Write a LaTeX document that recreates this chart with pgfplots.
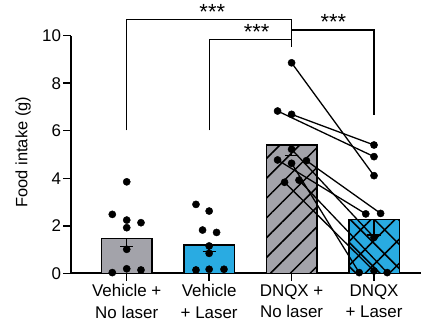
\documentclass[border=0pt]{standalone}
\usepackage{fontspec}
\setmainfont{Liberation Sans}
\usepackage{pgfplots}
\pgfplotsset{compat=1.18}
\usetikzlibrary{patterns.meta}
\definecolor{bargray}{RGB}{163,163,170}
\definecolor{barblue}{RGB}{41,171,226}
\begin{document}
\begin{tikzpicture}
\useasboundingbox (-71bp,-52.7bp) rectangle (350bp,273.3bp);
\begin{axis}[
  at={(0,0)}, anchor=south west,
  scale only axis, width=350bp, height=237.6bp,
  xmin=-0.676, xmax=3.57, ymin=0, ymax=10,
  axis lines=left,
  axis line style={line width=2bp, -},
  clip=false,
  ytick={0,2,4,6,8,10},
  xtick={0,1,2,3},
  xticklabels={{Vehicle +\\No laser},{Vehicle\\+ Laser},{DNQX +\\No laser},{DNQX\\+ Laser}},
  tick style={line width=1.5bp, black},
  tick align=outside,
  major tick length=7.5bp,
  /pgf/number format/assume math mode=true,
  yticklabel style={font=\fontsize{17}{20}\selectfont, xshift=1bp},
  xticklabel style={font=\fontsize{17}{21.7}\selectfont, align=center},
  ylabel={Food intake (g)},
  ylabel style={font=\fontsize{16.5}{20}\selectfont, at={(axis description cs:-0.137,0.51)}, anchor=center},
]
% bars
\addplot[ybar, bar width=50.5bp, bar shift=0pt, fill=bargray, draw=black, line width=1.5bp] coordinates {(0,1.47)};
\addplot[ybar, bar width=50.5bp, bar shift=0pt, fill=barblue, draw=black, line width=1.5bp] coordinates {(1,1.19)};
\addplot[ybar, bar width=50.5bp, bar shift=0pt, fill=bargray, draw=black, line width=1.5bp,
  postaction={pattern={Lines[angle=45,distance=14bp,line width=1.5bp]}, pattern color=black}] coordinates {(2,5.40)};
\addplot[ybar, bar width=50.5bp, bar shift=0pt, fill=barblue, draw=black, line width=1.5bp,
  postaction={pattern={Hatch[angle=45,distance=17bp,line width=1.5bp]}, pattern color=black}] coordinates {(3,2.27)};
% error bars (SEM, lower half)
\addplot[black, line width=1.5bp] coordinates {(0,1.47) (0,1.12)};
\addplot[black, line width=1.5bp] coordinates {(-0.08,1.12) (0.08,1.12)};
\addplot[black, line width=1.5bp] coordinates {(1,1.19) (1,0.91)};
\addplot[black, line width=1.5bp] coordinates {(0.92,0.91) (1.08,0.91)};
\addplot[black, line width=1.5bp] coordinates {(2,5.40) (2,4.95)};
\addplot[black, line width=1.5bp] coordinates {(1.92,4.95) (2.08,4.95)};
\addplot[black, line width=1.5bp] coordinates {(3,2.27) (3,1.61)};
\addplot[black, line width=1.5bp] coordinates {(2.92,1.61) (3.08,1.61)};
% paired lines
\addplot[black, line width=1.3bp] coordinates {(2,8.86) (3,4.11)};
\addplot[black, line width=1.3bp] coordinates {(1.83,6.83) (3,4.91)};
\addplot[black, line width=1.3bp] coordinates {(2,6.69) (3,5.40)};
\addplot[black, line width=1.3bp] coordinates {(2.18,4.74) (3.08,2.52)};
\addplot[black, line width=1.3bp] coordinates {(1.83,4.77) (2.9,2.50)};
\addplot[black, line width=1.3bp] coordinates {(2,5.22) (3,1.51)};
\addplot[black, line width=1.3bp] coordinates {(2,4.63) (2.82,0.03)};
\addplot[black, line width=1.3bp] coordinates {(1.915,3.83) (3,0.10)};
\addplot[black, line width=1.3bp] coordinates {(2.09,3.92) (3.16,0.03)};
% individual points
\addplot[only marks, mark=*, mark size=3.6bp, black] coordinates {
  (0,3.85) (-0.175,2.48) (0,2.24) (0.173,2.13) (0,1.92) (0,1.01) (-0.175,0.03) (0,0.19) (0.173,0.14)
  (0.84,2.90) (1.0,2.62) (0.92,1.82) (1.09,1.72) (1,1.15) (1,0.84) (0.84,0.14) (1,0.17) (1.18,0.17)
  (2,8.86) (1.83,6.83) (2,6.69) (2,5.22) (1.83,4.77) (2,4.63) (2.18,4.74) (1.915,3.83) (2.09,3.92)
  (3,5.40) (3,4.91) (3,4.11) (2.9,2.50) (3.08,2.52) (3,1.51) (2.82,0.03) (3,0.10) (3.16,0.03)
};
% significance brackets
\addplot[black, line width=1.3bp] coordinates {(0,6.02) (0,10.69) (2,10.69) (2,9.52)};
\addplot[black, line width=1.3bp] coordinates {(1,6.02) (1,9.84) (2,9.84)};
\addplot[black, line width=1.3bp] coordinates {(2,10.24) (3,10.24) (3,6.66)};
\node[font=\fontsize{22}{24}\selectfont, anchor=center, inner sep=0pt] at (axis cs:1.038,10.98) {***};
\node[font=\fontsize{22}{24}\selectfont, anchor=center, inner sep=0pt] at (axis cs:1.577,10.14) {***};
\node[font=\fontsize{22}{24}\selectfont, anchor=center, inner sep=0pt] at (axis cs:2.506,10.56) {***};
\end{axis}
\end{tikzpicture}
\end{document}
